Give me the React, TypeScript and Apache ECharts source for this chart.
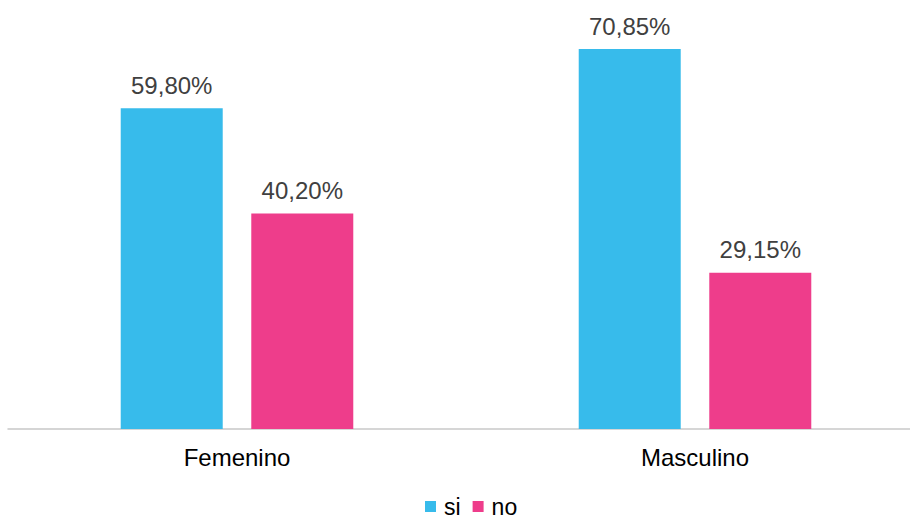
import React, { useEffect, useRef } from "react";
import * as echarts from "echarts";

const categories = ["Femenino", "Masculino"];
const siValues = [59.8, 70.85];
const noValues = [40.2, 29.15];
const seriesNames = ["si", "no"];

const fmt = (v: number) => v.toFixed(2).replace(".", ",") + "%";

export default function App() {
  const ref = useRef<HTMLDivElement>(null);
  useEffect(() => {
    const chart = echarts.init(ref.current!, undefined, { renderer: "svg" });
    const labelStyle = {
      show: true,
      position: "top" as const,
      distance: 11,
      fontFamily: "Liberation Sans, Arial, sans-serif",
      fontSize: 24,
      color: "#404040",
      formatter: (p: any) => fmt(p.value),
    };
    chart.setOption({
      animation: false,
      backgroundColor: "#ffffff",
      grid: { left: 8, top: 0, width: 916, height: 429, containLabel: false },
      legend: {
        top: 495,
        left: 425,
        padding: 0,
        itemWidth: 11,
        itemHeight: 11,
        itemGap: 12,
        icon: "rect",
        textStyle: {
          fontFamily: "Liberation Sans, Arial, sans-serif",
          fontSize: 23,
          lineHeight: 23,
          color: "#000000",
          padding: [0, 0, 0, 3],
        },
        data: seriesNames,
      },
      xAxis: {
        type: "category",
        data: categories,
        axisLine: { lineStyle: { color: "#c8c8c8", width: 1.5 } },
        axisTick: { show: false },
        axisLabel: {
          margin: 16,
          fontFamily: "Liberation Sans Narrow, Arial Narrow, Liberation Sans, sans-serif",
          fontSize: 24,
          color: "#000000",
        },
      },
      yAxis: {
        type: "value",
        min: 0,
        max: 80,
        show: false,
        splitLine: { show: false },
      },
      series: [
        {
          name: seriesNames[0],
          type: "bar",
          data: siValues,
          barWidth: 102,
          barGap: "28%",
          itemStyle: { color: "#37BBEB" },
          label: labelStyle,
        },
        {
          name: seriesNames[1],
          type: "bar",
          data: noValues,
          barWidth: 102,
          barGap: "28%",
          itemStyle: { color: "#EE3D8B" },
          label: labelStyle,
        },
      ],
    });
    return () => chart.dispose();
  }, []);
  return (
    <div style={{ width: 910, height: 519, position: "absolute", left: 0, top: 0, overflow: "hidden" }}>
      <div ref={ref} style={{ width: 926, height: 519, position: "absolute", left: 0, top: 0 }} />
    </div>
  );
}
